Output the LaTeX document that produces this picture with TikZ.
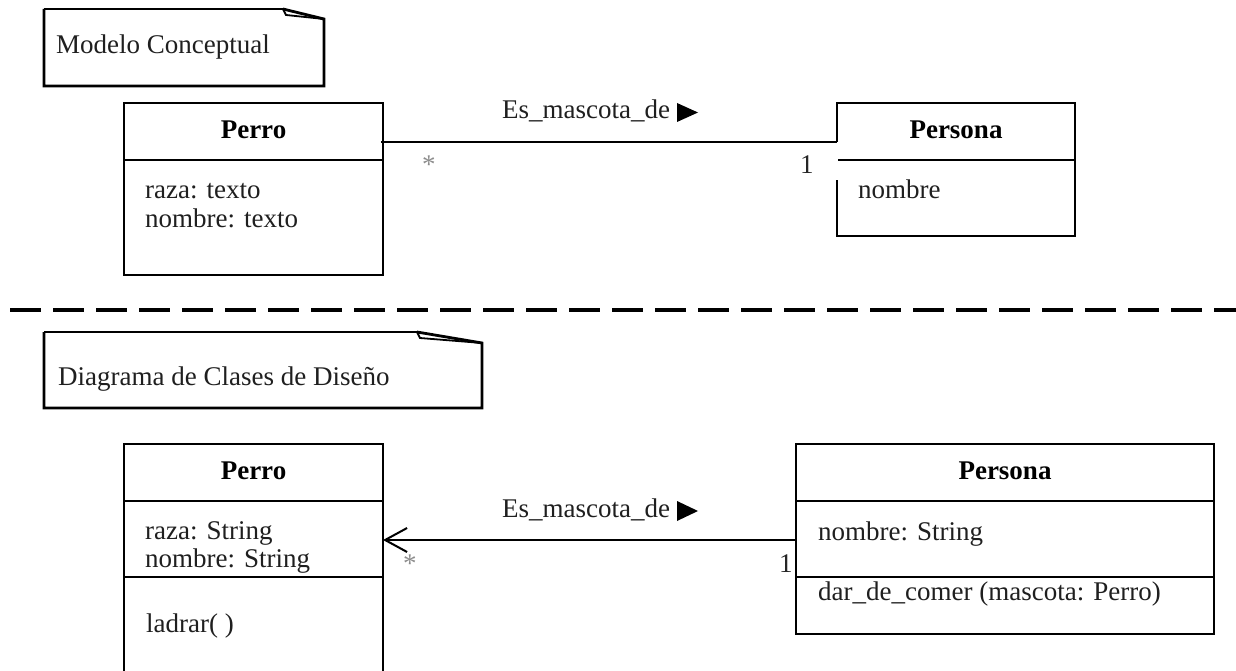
\documentclass[tikz,border=0pt]{standalone}
\usepackage{fontspec}
\setmainfont{Liberation Serif}
\usetikzlibrary{arrows.meta,calc}
\tikzset{
  boxline/.style={draw=black, line width=2pt},
  classbox/.style={draw=none, inner sep=0pt, outer sep=0pt, anchor=north west},
  notethick/.style={draw=black, line width=2.8pt, line join=miter},
  notethin/.style={draw=black, line width=1.8pt},
  txt/.style={font=\fontsize{27}{32}\selectfont, inner sep=0pt, text=black!88},
  ttl/.style={font=\fontsize{27}{32}\selectfont\bfseries, inner sep=0pt, text=black},
  multstar/.style={font=\fontsize{27}{32}\selectfont, inner sep=0pt, text=black!45},
  multone/.style={font=\fontsize{27}{32}\selectfont, inner sep=0pt, text=black!85},
  separator/.style={draw=black, line width=4pt, dash pattern=on 31pt off 12pt},
  navarrow/.style={fill=black}
}
\begin{document}
\begin{tikzpicture}[x=1pt, y=-1pt]
\useasboundingbox (0,0) rectangle (1236,671);
\clip (0,0) rectangle (1236,671);

% ---------- note: Modelo Conceptual ----------
\draw[notethin] (44,9) -- (283,9);
\draw[notethick] (283,9) -- (324,19) -- (324,86) -- (44,86) -- (44,9);
\draw[notethin] (283,9) -- (286,15) -- (324,19);
\node[txt, anchor=base west] (noteA) at (56,54) {Modelo Conceptual};

% ---------- conceptual model: Perro ----------
\node[classbox, minimum width=259pt, minimum height=172pt] (perroA) at (124,103) {};
\draw[boxline] (perroA.north west) rectangle (perroA.south east);
\draw[boxline] ($(perroA.north west)+(0,57)$) -- ($(perroA.north east)+(0,57)$);
\node[ttl, anchor=base] (perroAt) at ($(perroA.north)+(0,36)$) {Perro};
\node[txt, anchor=base west] (perroAa) at (145,198) {raza: texto};
\node[txt, anchor=base west] (perroAb) at (145,227) {nombre: texto};

% ---------- conceptual model: Persona ----------
\node[classbox, minimum width=238pt, minimum height=133pt] (personaA) at (837,103) {};
\draw[boxline] ($(personaA.north west)+(0,39)$) -- (personaA.north west) -- (personaA.north east)
  -- (personaA.south east) -- (personaA.south west) -- ++(0,-56);
\draw[boxline] ($(personaA.north west)+(1,57)$) -- ($(personaA.north east)+(0,57)$);
\node[ttl, anchor=base] (personaAt) at ($(personaA.north)+(0,36)$) {Persona};
\node[txt, anchor=base west] (personaAa) at (858,199) {nombre};

% ---------- association (conceptual) ----------
\draw[boxline] ($(perroA.north east)+(-2,39)$) -- ($(personaA.north west)+(0,39)$);
\node[txt, anchor=base west] (assocA) at (502,119) {Es\_mascota\_de};
\fill[navarrow] (677,103) -- (677,122) -- (698,112.5) -- cycle;
\node[multstar, anchor=base west] (starA) at (422,174) {*};
\node[multone, anchor=base west] (oneA) at (800,174) {1};

% ---------- separator ----------
\coordinate (sepL) at (10,310);
\coordinate (sepR) at (1236,310);
\draw[separator] (sepL) -- (sepR);

% ---------- note: Diagrama de Clases de Diseno ----------
\draw[notethin] (44,332) -- (417,332);
\draw[notethick] (417,332) -- (482,343) -- (482,408) -- (44,408) -- (44,332);
\draw[notethin] (417,332) -- (420,338) -- (482,343);
\node[txt, anchor=base west] (noteB) at (58,385) {Diagrama de Clases de Diseño};

% ---------- design: Perro ----------
\node[classbox, minimum width=259pt, minimum height=240pt] (perroB) at (124,444) {};
\draw[boxline] (perroB.north west) rectangle (perroB.south east);
\draw[boxline] ($(perroB.north west)+(0,57)$) -- ($(perroB.north east)+(0,57)$);
\draw[boxline] ($(perroB.north west)+(0,133)$) -- ($(perroB.north east)+(0,133)$);
\node[ttl, anchor=base] (perroBt) at ($(perroB.north)+(0,35)$) {Perro};
\node[txt, anchor=base west] (perroBa) at (145,539) {raza: String};
\node[txt, anchor=base west] (perroBb) at (145,567) {nombre: String};
\node[txt, anchor=base west] (perroBm) at (146,632) {ladrar( )};

% ---------- design: Persona ----------
\node[classbox, minimum width=418pt, minimum height=190pt] (personaB) at (796,444) {};
\draw[boxline] (personaB.north west) rectangle (personaB.south east);
\draw[boxline] ($(personaB.north west)+(0,57)$) -- ($(personaB.north east)+(0,57)$);
\draw[boxline] ($(personaB.north west)+(0,133)$) -- ($(personaB.north east)+(0,133)$);
\node[ttl, anchor=base] (personaBt) at ($(personaB.north)+(0,35)$) {Persona};
\node[txt, anchor=base west] (personaBa) at (818,540) {nombre: String};
\node[txt, anchor=base west] (personaBm) at (818,600) {dar\_de\_comer (mascota: Perro)};

% ---------- navigable association (design) ----------
\draw[boxline, -{Straight Barb[length=22pt, width=24pt, line width=2pt]}]
  ($(personaB.north west)+(0,96)$) -- ($(perroB.north east)+(0,96)$);
\node[txt, anchor=base west] (assocB) at (502,517) {Es\_mascota\_de};
\fill[navarrow] (677,501) -- (677,521) -- (698,511) -- cycle;
\node[multstar, anchor=base west] (starB) at (403,572) {*};
\node[multone, anchor=base west] (oneB) at (779,572) {1};
\end{tikzpicture}
\end{document}
